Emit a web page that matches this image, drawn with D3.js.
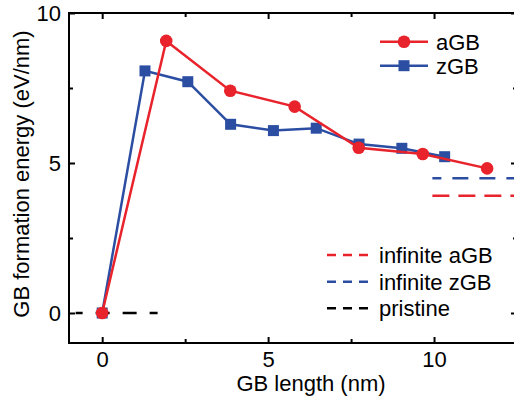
<!DOCTYPE html>
<html><head><meta charset="utf-8">
<script src="https://cdn.jsdelivr.net/npm/d3@7"></script>
<style>body{margin:0;background:#fff}svg{display:block;font-family:"Liberation Sans",Arial,sans-serif}</style>
</head><body>
<svg id="c" width="514" height="402"></svg>
<script>
const aGB_x = [0, 1.93, 3.86, 5.80, 7.73, 9.66, 11.60];
const aGB_y = [0, 9.07, 7.41, 6.88, 5.51, 5.30, 4.82];
const zGB_x = [0, 1.29, 2.58, 3.87, 5.16, 6.45, 7.74, 9.03, 10.32];
const zGB_y = [0, 8.07, 7.71, 6.29, 6.08, 6.16, 5.63, 5.49, 5.21];
const infinite_aGB = 3.91;
const infinite_zGB = 4.49;
const pristine = 0;
const xMajorTicks = [0, 5, 10];
const xMinorTicks = [2.5, 7.5];
const yMajorTicks = [0, 5, 10];
const yMinorTicks = [2.5, 7.5];

const red = "#e8232b", blue = "#2b4ea2";
const svg = d3.select("#c");
const L = 69, R = 517, T = 13, B = 343;
const x = d3.scaleLinear().domain([-1, 12.5]).range([L, R]);
const y = d3.scaleLinear().domain([-1, 10]).range([B, T]);
const fs = 22;

svg.append("rect").attr("x", L).attr("y", T).attr("width", R - L).attr("height", B - T)
  .attr("fill", "none").attr("stroke", "#000").attr("stroke-width", 2);

function axis(gen, scale, ticks, size, tx, ty, labels) {
  const g = svg.append("g").attr("transform", `translate(${tx},${ty})`)
    .call(gen(scale).tickValues(ticks).tickSizeInner(size).tickSizeOuter(0).tickPadding(labels ? 8 + size : 0)
      .tickFormat(labels ? d3.format("d") : ""));
  g.select(".domain").remove();
  g.selectAll(".tick line").attr("stroke", "#000").attr("stroke-width", 2);
  g.selectAll(".tick text").attr("font-size", fs).attr("font-family", "Liberation Sans, Arial, sans-serif").attr("fill", "#000");
  return g;
}
const gb = axis(d3.axisBottom, x, xMajorTicks, -6, 0, B, true);
gb.selectAll(".tick text").attr("dy", null).attr("y", 24);
axis(d3.axisBottom, x, xMinorTicks, -4, 0, B, false);
axis(d3.axisTop, x, xMajorTicks, -6, 0, T, false);
axis(d3.axisTop, x, xMinorTicks, -4, 0, T, false);
const gl = axis(d3.axisLeft, y, yMajorTicks, -6, L, 0, true);
gl.selectAll(".tick text").attr("x", -8).attr("dy", "0.36em");
axis(d3.axisLeft, y, yMinorTicks, -4, L, 0, false);
axis(d3.axisRight, y, yMajorTicks, -6, R, 0, false);
axis(d3.axisRight, y, yMinorTicks, -4, R, 0, false);

svg.append("text").attr("x", 311).attr("y", 391).attr("text-anchor", "middle")
  .attr("font-size", fs).text("GB length (nm)");
svg.append("text").attr("transform", `translate(29,${(T + B) / 2 - 4}) rotate(-90)`).attr("text-anchor", "middle")
  .attr("font-size", fs).text("GB formation energy (eV/nm)");

svg.append("line").attr("x1", x(-0.8)).attr("x2", x(1.67)).attr("y1", y(pristine)).attr("y2", y(pristine))
  .attr("stroke", "#000").attr("stroke-width", 2.5).attr("stroke-dasharray", "14,13").attr("stroke-dashoffset", 7);
svg.append("line").attr("x1", x(9.95)).attr("x2", x(12.5)).attr("y1", y(infinite_zGB)).attr("y2", y(infinite_zGB))
  .attr("stroke", blue).attr("stroke-width", 2.5).attr("stroke-dasharray", "16,11").attr("stroke-dashoffset", 7);
svg.append("line").attr("x1", x(9.95)).attr("x2", x(12.5)).attr("y1", y(infinite_aGB)).attr("y2", y(infinite_aGB))
  .attr("stroke", red).attr("stroke-width", 2.5).attr("stroke-dasharray", "17,9");

const line = d3.line().x(d => x(d[0])).y(d => y(d[1]));
const zData = zGB_x.map((v, i) => [v, zGB_y[i]]);
const aData = aGB_x.map((v, i) => [v, aGB_y[i]]);

svg.append("path").datum(zData).attr("d", line).attr("fill", "none").attr("stroke", blue).attr("stroke-width", 2.5);
svg.selectAll(".sq").data(zData).enter().append("rect")
  .attr("x", d => x(d[0]) - 5.5).attr("y", d => y(d[1]) - 5.5).attr("width", 11).attr("height", 11).attr("fill", blue);
svg.append("path").datum(aData).attr("d", line).attr("fill", "none").attr("stroke", red).attr("stroke-width", 2.5);
svg.selectAll(".ci").data(aData).enter().append("circle")
  .attr("cx", d => x(d[0])).attr("cy", d => y(d[1])).attr("r", 6.3).attr("fill", red);

const leg1 = [["aGB", red, "circle", 41.7], ["zGB", blue, "square", 65.7]];
leg1.forEach(([t, c, m, ly]) => {
  svg.append("line").attr("x1", 380).attr("x2", 428).attr("y1", ly).attr("y2", ly).attr("stroke", c).attr("stroke-width", 2.5);
  if (m === "circle") svg.append("circle").attr("cx", 404).attr("cy", ly).attr("r", 6.3).attr("fill", c);
  else svg.append("rect").attr("x", 404 - 5.5).attr("y", ly - 5.5).attr("width", 11).attr("height", 11).attr("fill", c);
  svg.append("text").attr("x", 436).attr("y", ly + 8).attr("font-size", fs).text(t);
});
const leg2 = [["infinite aGB", red, 255], ["infinite zGB", blue, 281.7], ["pristine", "#000", 308.3]];
leg2.forEach(([t, c, ly]) => {
  svg.append("line").attr("x1", 327).attr("x2", 370).attr("y1", ly).attr("y2", ly).attr("stroke", c)
    .attr("stroke-width", 2.5).attr("stroke-dasharray", "9,7");
  svg.append("text").attr("x", 379).attr("y", ly + 8).attr("font-size", fs).text(t);
});
</script>
</body></html>
